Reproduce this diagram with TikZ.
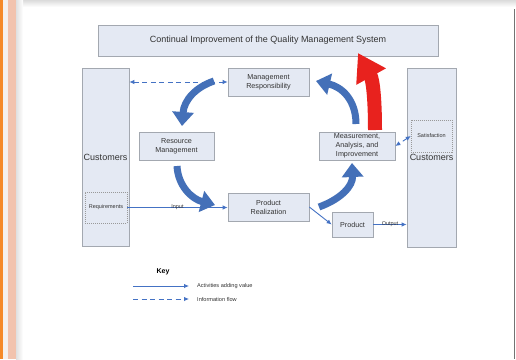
\documentclass[tikz,border=0pt]{standalone}
\usepackage{fontspec}
\setmainfont{Liberation Sans}
\usetikzlibrary{arrows.meta,calc}
\definecolor{boxfill}{HTML}{E4E9F3}
\definecolor{boxline}{HTML}{A3A8B0}
\definecolor{flow}{HTML}{4472C4}
\definecolor{bigblue}{HTML}{4470B8}
\definecolor{bigred}{HTML}{E8221E}
\definecolor{stripeorange}{HTML}{F58A2A}
\definecolor{stripelight}{HTML}{F5F1EF}
\definecolor{stripepeach}{HTML}{F2C3AE}
\begin{document}
\begin{tikzpicture}[x=1pt,y=-1pt,
  box/.style={draw=boxline, fill=boxfill, line width=0.7pt, inner sep=1pt, align=center, font=\fontsize{7.2}{9}\selectfont, text=black!80},
  dbox/.style={draw=black!40, dash pattern=on 1pt off 1pt, line width=0.5pt, inner sep=1pt, align=center, font=\fontsize{5.5}{6.2}\selectfont, text=black!80},
  flowline/.style={draw=flow, line width=0.9pt, -{Latex[length=5pt,width=4.5pt]}},
  infoline/.style={draw=flow, line width=0.9pt, dash pattern=on 5pt off 3.5pt, {Latex[length=5pt,width=4.5pt]}-{Latex[length=5pt,width=4.5pt]}},
  bigarrow/.style={draw=bigblue, line width=7pt, -{Triangle[length=14pt,width=21pt]}},
  redarrow/.style={draw=bigred, line width=14pt, -{Triangle[length=27pt,width=32pt]}},
  lbl/.style={font=\fontsize{5.5}{6.5}\selectfont, text=black!80, inner sep=0.5pt},
  keytext/.style={anchor=west, font=\fontsize{5.6}{6.5}\selectfont, text=black!80, inner sep=0pt}
]
\useasboundingbox (0,0) rectangle (516,359);
% page background / frame
\fill[white] (0,0) rectangle (516,359);
\shade[top color=black!14, bottom color=white] (16,0) rectangle (516,7);
\fill[stripeorange] (0,0) rectangle (2.5,359);
\fill[stripelight] (2.5,0) rectangle (8,359);
\fill[stripepeach] (8,0) rectangle (16,359);
\shade[left color=black!12, right color=white] (16,0) rectangle (23,359);
\draw[black!55, line width=1.3pt] (514.8,9) -- (514.8,359);

% title
\node[box, minimum width=340, minimum height=31, font=\fontsize{9}{10}\selectfont] (title) at (268,40.5) {Continual Improvement of the Quality Management System};

% customers columns
\node[box, minimum width=47, minimum height=178, font=\fontsize{9}{10}\selectfont] (lc) at (105.5,157) {Customers};
\node[box, minimum width=49, minimum height=179, font=\fontsize{9}{10}\selectfont] (rc) at (431.5,157.5) {Customers};
\node[dbox, minimum width=42, minimum height=31] (req) at (106,207.5) {Requirements};
\node[dbox, minimum width=41, minimum height=32] (sat) at (431.5,136) {Satisfaction};

% process boxes
\node[box, minimum width=81, minimum height=28] (mr) at (268.5,82) {Management\\Responsibility};
\node[box, minimum width=75, minimum height=28] (rm) at (176.5,146) {Resource\\Management};
\node[box, minimum width=81, minimum height=28] (pr) at (268.5,207) {Product\\Realization};
\node[box, minimum width=41, minimum height=25] (prod) at (352.5,224.5) {Product};
\node[box, minimum width=76, minimum height=28] (mai) at (357,146) {Measurement,\\Analysis, and\\Improvement};

% thin connectors
\draw[infoline] (lc.east |- mr.west) -- (mr.west);
\draw[flowline] (req.east) -- node[lbl] {Input} (req.east -| pr.west);
\draw[flowline] (pr.east) -- (prod.west);
\draw[flowline] (prod.east) -- node[lbl] {Output} (prod.east -| rc.west);
\draw[infoline] (sat.west) -- (mai.east);

% big cycle arrows
\coordinate (a1s) at (214,81);  \coordinate (a1e) at (182,126);
\coordinate (a2s) at (177,166); \coordinate (a2e) at (215,205);
\coordinate (a3s) at (319,207); \coordinate (a3e) at (352,163);
\coordinate (a4s) at (356,124); \coordinate (a4e) at (316,81);
\coordinate (rs) at (375,130);  \coordinate (re) at (358,53);
\draw[bigarrow] (a1s) .. controls (196,87) and (184,100) .. (a1e);
\draw[bigarrow] (a2s) .. controls (178,186) and (192,199) .. (a2e);
\draw[bigarrow] (a3s) .. controls (341,199) and (353,186) .. (a3e);
\draw[bigarrow] (a4s) .. controls (356,100) and (342,87) .. (a4e);
\draw[redarrow] (rs) .. controls (375,100) and (373,80) .. (re);

% key
\node[font=\bfseries\fontsize{7}{8}\selectfont, inner sep=0pt] (key) at (163,272) {Key};
\coordinate (k1s) at (133,286); \coordinate (k1e) at (189,286);
\coordinate (k2s) at (133,299); \coordinate (k2e) at (189,299);
\draw[draw=flow, line width=0.9pt, -{Latex[length=5pt,width=4.5pt]}] (k1s) -- (k1e);
\draw[draw=flow, line width=0.9pt, dash pattern=on 5pt off 3.5pt, -{Latex[length=5pt,width=4.5pt]}] (k2s) -- (k2e);
\node[keytext] (k1t) at (197,286) {Activities adding value};
\node[keytext] (k2t) at (197,299) {Information flow};
\end{tikzpicture}
\end{document}
